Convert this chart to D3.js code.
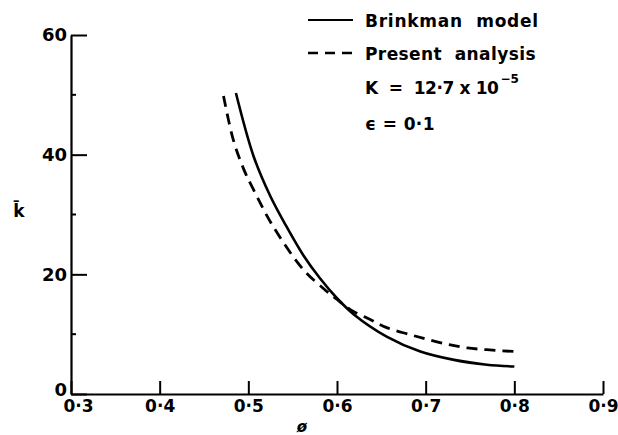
<!DOCTYPE html>
<html>
<head>
<meta charset="utf-8">
<script src="https://cdn.jsdelivr.net/npm/d3@7"></script>
<style>
  body { margin: 0; background: #fff; }
  svg { display: block; }
  text { font-family: "DejaVu Sans", "Liberation Sans", sans-serif; font-weight: bold; fill: #000; white-space: pre; }
</style>
</head>
<body>
<div id="chart"></div>
<script>
// porosity (phi) vs permeability ratio k-bar
var brinkmanPhi = [0.486, 0.506, 0.525, 0.543, 0.562, 0.581, 0.600, 0.619, 0.656, 0.694, 0.732, 0.769, 0.800];
var brinkmanK   = [50.3, 39.7, 33.0, 28.0, 23.2, 19.3, 16.0, 13.3, 9.6, 7.1, 5.7, 4.9, 4.6];

var presentPhi = [0.472, 0.483, 0.495, 0.506, 0.528, 0.562, 0.585, 0.600, 0.615, 0.638, 0.656, 0.683, 0.705, 0.728, 0.747, 0.769, 0.800];
var presentK   = [49.8, 42.5, 37.5, 34.1, 28.0, 20.8, 17.6, 15.8, 14.1, 12.4, 11.1, 9.9, 9.0, 8.2, 7.7, 7.4, 7.1];

var xTicks = [0.3, 0.4, 0.5, 0.6, 0.7, 0.8, 0.9];
var yMajorTicks = [0, 20, 40, 60];
var yMinorTicks = [10, 30, 50];

var width = 618, height = 435;
var margin = {top: 35, right: 15, bottom: 41, left: 71};

var svg = d3.select("#chart").append("svg")
    .attr("width", width)
    .attr("height", height);

var x = d3.scaleLinear().domain([0.3, 0.9]).range([margin.left, 603]);
var y = d3.scaleLinear().domain([0, 60]).range([height - margin.bottom, margin.top]);

var fmt = function(d){ return d3.format(".1f")(d).replace(".", "\u00b7"); };

// x axis, ticks pointing inwards
var xAxis = svg.append("g")
    .attr("transform", "translate(0," + y(0) + ")")
    .call(d3.axisBottom(x).tickValues(xTicks).tickSize(-13).tickSizeOuter(0).tickPadding(6).tickFormat(fmt));
xAxis.selectAll("text").attr("font-size", 17).attr("font-family", null)
    .attr("dx", function(d){ return d === 0.3 ? 7 : 0; });

// y axis
var yAxis = svg.append("g")
    .attr("transform", "translate(" + x(0.3) + ",0)")
    .call(d3.axisLeft(y).tickValues(yMajorTicks).tickSize(-16).tickSizeOuter(0).tickPadding(4));
yAxis.selectAll("text").attr("font-size", 18).attr("font-family", null)
    .attr("dy", function(d){ return d === 0 ? "0.1em" : "0.32em"; });

svg.append("g")
    .attr("transform", "translate(" + x(0.3) + ",0)")
    .selectAll("line").data(yMinorTicks).enter().append("line")
    .attr("x1", 0).attr("x2", 5)
    .attr("y1", function(d){ return y(d); })
    .attr("y2", function(d){ return y(d); })
    .attr("stroke", "#000").attr("stroke-width", 2);

svg.selectAll(".domain").attr("stroke-width", 2.2);
svg.selectAll(".tick line").attr("stroke-width", 2);

// axis titles
svg.append("text").attr("x", 302).attr("y", 432).attr("text-anchor", "middle")
    .attr("font-size", 15).attr("font-style", "italic").text("\u00f8");
svg.append("text").attr("x", 19).attr("y", 217).attr("text-anchor", "middle")
    .attr("font-size", 17).text("k\u0304");

// curves
var line = d3.line()
    .x(function(d){ return x(d[0]); })
    .y(function(d){ return y(d[1]); })
    .curve(d3.curveCatmullRom.alpha(0.5));

svg.append("path")
    .datum(d3.zip(brinkmanPhi, brinkmanK))
    .attr("d", line)
    .attr("fill", "none").attr("stroke", "#000").attr("stroke-width", 2.6);

svg.append("path")
    .datum(d3.zip(presentPhi, presentK))
    .attr("d", line)
    .attr("fill", "none").attr("stroke", "#000").attr("stroke-width", 2.8)
    .attr("stroke-dasharray", "11,7");

// legend
var legend = svg.append("g");
legend.append("line").attr("x1", 308).attr("x2", 353).attr("y1", 20).attr("y2", 20)
    .attr("stroke", "#000").attr("stroke-width", 2.2);
legend.append("text").attr("x", 365).attr("y", 27).attr("font-size", 17)
    .attr("letter-spacing", 0.75).text("Brinkman  model");

legend.append("line").attr("x1", 308).attr("x2", 353).attr("y1", 53).attr("y2", 53)
    .attr("stroke", "#000").attr("stroke-width", 2.6).attr("stroke-dasharray", "10,7");
legend.append("text").attr("x", 365).attr("y", 60).attr("font-size", 17)
    .attr("letter-spacing", 0.4).text("Present  analysis");

var kText = legend.append("text").attr("x", 365).attr("y", 94).attr("font-size", 17);
kText.append("tspan").attr("letter-spacing", -0.4).text("K  =  12\u00b77 x 10");
kText.append("tspan").attr("font-size", 12).attr("dy", -11).attr("dx", 2).text("\u22125");

legend.append("text").attr("x", 365).attr("y", 130).attr("font-size", 17)
    .attr("letter-spacing", 0.4).text("\u03f5 = 0\u00b71");
</script>
</body>
</html>
